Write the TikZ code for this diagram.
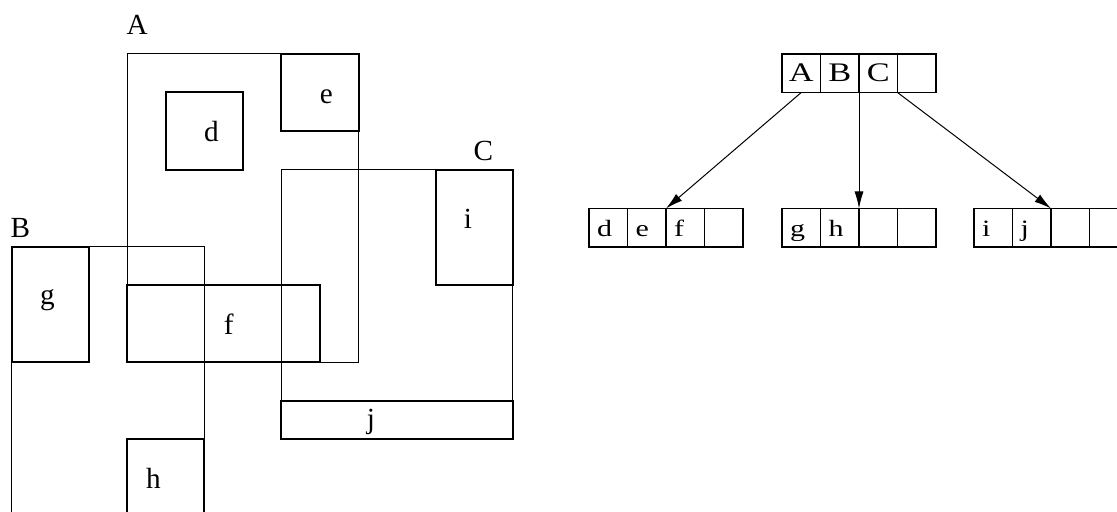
\documentclass[tikz,border=0pt]{standalone}
\usepackage{fontspec}
\setmainfont{Liberation Serif}
\newfontfamily\treefont[FakeStretch=1.28]{Liberation Serif}
\usetikzlibrary{arrows.meta}

\tikzset{
  region/.style={line width=0.5pt},
  entry/.style={line width=1pt},
  lbl/.style={anchor=base, inner sep=0pt, font=\fontsize{14.6}{16}\selectfont},
  cell/.style={draw, line width=0.6pt, minimum width=19.25pt, minimum height=19.25pt, inner sep=0pt, outer sep=0pt, anchor=north west},
  rootcell/.style={cell, font=\treefont\fontsize{13.4}{15}\selectfont, text height=0.82em, text depth=0pt},
  leafcell/.style={cell, font=\treefont\fontsize{11.7}{14}\selectfont, text height=0.92em, text depth=0pt, text width=11.25pt, inner xsep=4pt, align=left},
  ptr/.style={-{Latex[length=8.5pt,width=4.5pt]}, line width=0.5pt},
}

\begin{document}
\begin{tikzpicture}[x=0.5pt,y=0.5pt,yscale=-1,xscale=1]
		\useasboundingbox (0,0) rectangle (1117,512);

		% Bounding regions A, B and C (thin)
		\draw[region] (127.3,54) rectangle (358.5,362.2);
		\draw[region] (11.7,246.7) rectangle (204.4,516.4);
		\draw[region] (281.4,169.6) rectangle (512.6,439.3);

		% Data rectangles d to j (thick)
		\draw[entry] (165.8,92.5) rectangle (242.9,169.6);
		\draw[entry] (281.4,54) rectangle (358.5,131.1);
		\draw[entry] (127.3,285.2) rectangle (320,362.2);
		\draw[entry] (11.7,246.7) rectangle (88.8,362.2);
		\draw[entry] (127.3,439.3) rectangle (204.4,516.4);
		\draw[entry] (435.5,169.6) rectangle (512.6,285.2);
		\draw[entry] (281.4,400.8) rectangle (512.6,439.3);

		% Region names
		\node[lbl] (labA) at (137.2,35) {A};
		\node[lbl] (labB) at (20.3,237.3) {B};
		\node[lbl] (labC) at (483.4,161) {C};

		% Rectangle names
		\node[lbl] (labd) at (211.5,141.7) {d};
		\node[lbl] (labe) at (326.3,104) {e};
		\node[lbl] (labf) at (228.8,334.3) {f};
		\node[lbl] (labg) at (47.3,305) {g};
		\node[lbl] (labh) at (153.3,488.3) {h};
		\node[lbl] (labi) at (468,228.3) {i};
		\node[lbl] (labj) at (371,429) {j};

		% Root node of the tree
		\node[rootcell] (r1) at (782,54) {A};
		\node[rootcell] (r2) at (820.5,54) {B};
		\node[rootcell] (r3) at (859,54) {C};
		\node[rootcell] (r4) at (897.5,54) {};

		% Leaf node under A
		\node[leafcell] (l1a) at (589,208.5) {d};
		\node[leafcell] (l1b) at (627.5,208.5) {e};
		\node[leafcell] (l1c) at (666,208.5) {f};
		\node[leafcell] (l1d) at (704.5,208.5) {};

		% Leaf node under B
		\node[leafcell] (l2a) at (782,208.5) {g};
		\node[leafcell] (l2b) at (820.5,208.5) {h};
		\node[leafcell] (l2c) at (859,208.5) {};
		\node[leafcell] (l2d) at (897.5,208.5) {};

		% Leaf node under C
		\node[leafcell] (l3a) at (974,208.5) {i};
		\node[leafcell] (l3b) at (1012.5,208.5) {j};
		\node[leafcell] (l3c) at (1051,208.5) {};
		\node[leafcell] (l3d) at (1089.5,208.5) {};

		% Child pointers
		\draw[ptr] (r1.south) -- (l1c.north west);
		\draw[ptr] (r2.south east) -- (l2c.north west);
		\draw[ptr] (r3.south east) -- (l3c.north west);
	\end{tikzpicture}
\end{document}
